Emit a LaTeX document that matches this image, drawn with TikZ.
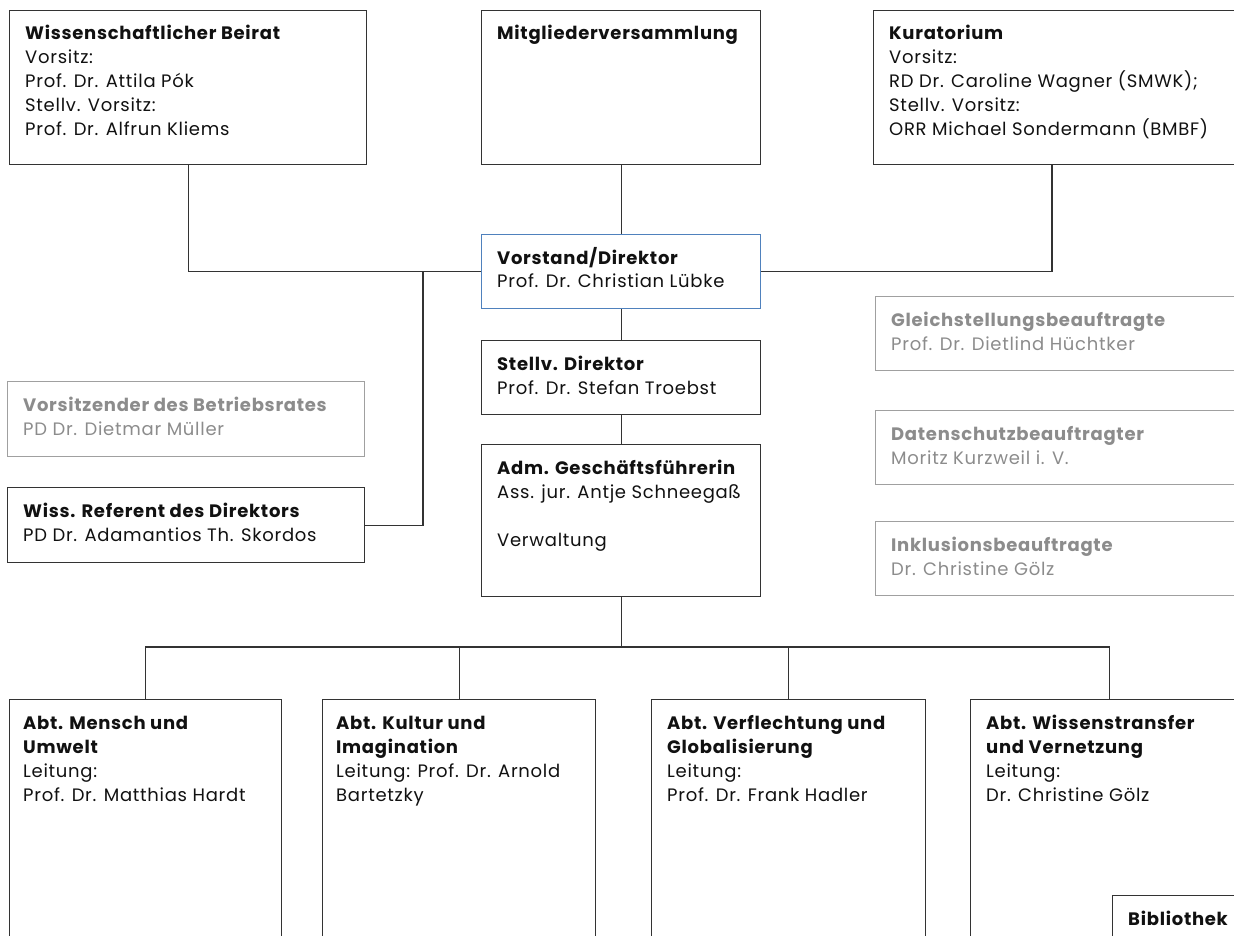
\documentclass[tikz,border=0pt]{standalone}
\usepackage{fontspec}
\setmainfont{Poppins}[LetterSpace=4]
\definecolor{ink}{HTML}{111111}
\definecolor{frame}{HTML}{333333}
\definecolor{greyink}{HTML}{8C8C8C}
\definecolor{greyframe}{HTML}{A0A0A0}
\definecolor{blueframe}{HTML}{4F81BD}
\newcommand{\bxtext}[1]{\parbox[t]{12cm}{\fontsize{18}{24}\selectfont\raggedright #1}}
\tikzset{
  orgbox/.style={draw=frame, line width=1.3pt, rectangle, inner sep=0pt, anchor=north west},
  greybox/.style={orgbox, draw=greyframe},
  bluebox/.style={orgbox, draw=blueframe},
  txt/.style={inner sep=0pt, anchor=base west, text=ink},
  greytxt/.style={txt, text=greyink},
  link/.style={draw=frame, line width=1.3pt}
}
\begin{document}
\begin{tikzpicture}[x=1pt,y=-1pt]
\useasboundingbox (0,0) rectangle (1234,936);
\clip (0,0) rectangle (1234,936);
\fill[white] (0,0) rectangle (1234,936);
% boxes
\node[orgbox, minimum width=357pt, minimum height=154pt] (beirat) at (9,10) {};
\node[orgbox, minimum width=279pt, minimum height=154pt] (mitglied) at (481,10) {};
\node[orgbox, minimum width=420pt, minimum height=154pt] (kurat) at (873,10) {};
\node[bluebox, minimum width=279pt, minimum height=74pt] (vorstand) at (481,234) {};
\node[orgbox, minimum width=279pt, minimum height=74pt] (stellv) at (481,340) {};
\node[orgbox, minimum width=279pt, minimum height=152pt] (adm) at (481,444) {};
\node[greybox, minimum width=357pt, minimum height=75pt] (betr) at (7,381) {};
\node[orgbox, minimum width=357pt, minimum height=75pt] (ref) at (7,487) {};
\node[greybox, minimum width=420pt, minimum height=74pt] (gleich) at (875,296) {};
\node[greybox, minimum width=420pt, minimum height=74pt] (daten) at (875,410) {};
\node[greybox, minimum width=420pt, minimum height=74pt] (inkl) at (875,521) {};
\node[orgbox, minimum width=272pt, minimum height=300pt] (abta) at (9,699) {};
\node[orgbox, minimum width=273pt, minimum height=300pt] (abtb) at (322,699) {};
\node[orgbox, minimum width=274pt, minimum height=300pt] (abtc) at (651,699) {};
\node[orgbox, minimum width=278pt, minimum height=300pt] (abtd) at (970,699) {};
\node[orgbox, minimum width=200pt, minimum height=100pt] (bib) at (1112,895) {};
% texts
\node[txt] (beirat-t) at ([xshift=16pt,yshift=-30pt]beirat.north west) {\bxtext{\textbf{Wissenschaftlicher Beirat}\\Vorsitz:\\Prof. Dr. Attila Pók\\Stellv. Vorsitz:\\Prof. Dr. Alfrun Kliems}};
\node[txt] (mitglied-t) at ([xshift=16pt,yshift=-30pt]mitglied.north west) {\bxtext{\textbf{Mitgliederversammlung}}};
\node[txt] (kurat-t) at ([xshift=16pt,yshift=-30pt]kurat.north west) {\bxtext{\textbf{Kuratorium}\\Vorsitz:\\RD Dr. Caroline Wagner (SMWK);\\Stellv. Vorsitz:\\ORR Michael Sondermann (BMBF)}};
\node[txt] (vorstand-t) at ([xshift=16pt,yshift=-30pt]vorstand.north west) {\bxtext{\textbf{Vorstand/Direktor}\\Prof. Dr. Christian Lübke}};
\node[txt] (stellv-t) at ([xshift=16pt,yshift=-30pt]stellv.north west) {\bxtext{\textbf{Stellv. Direktor}\\Prof. Dr. Stefan Troebst}};
\node[txt] (adm-t) at ([xshift=16pt,yshift=-30pt]adm.north west) {\bxtext{\textbf{Adm. Geschäftsführerin}\\Ass. jur. Antje Schneegaß\\[24pt]Verwaltung}};
\node[greytxt] (betr-t) at ([xshift=16pt,yshift=-30pt]betr.north west) {\bxtext{\textbf{Vorsitzender des Betriebsrates}\\PD Dr. Dietmar Müller}};
\node[txt] (ref-t) at ([xshift=16pt,yshift=-30pt]ref.north west) {\bxtext{\textbf{Wiss. Referent des Direktors}\\PD Dr. Adamantios Th. Skordos}};
\node[greytxt] (gleich-t) at ([xshift=16pt,yshift=-30pt]gleich.north west) {\bxtext{\textbf{Gleichstellungsbeauftragte}\\Prof. Dr. Dietlind Hüchtker}};
\node[greytxt] (daten-t) at ([xshift=16pt,yshift=-30pt]daten.north west) {\bxtext{\textbf{Datenschutzbeauftragter}\\Moritz Kurzweil i. V.}};
\node[greytxt] (inkl-t) at ([xshift=16pt,yshift=-30pt]inkl.north west) {\bxtext{\textbf{Inklusionsbeauftragte}\\Dr. Christine Gölz}};
\node[txt] (abta-t) at ([xshift=14pt,yshift=-30pt]abta.north west) {\bxtext{\textbf{Abt. Mensch und}\\\textbf{Umwelt}\\Leitung:\\Prof. Dr. Matthias Hardt}};
\node[txt] (abtb-t) at ([xshift=14pt,yshift=-30pt]abtb.north west) {\bxtext{\textbf{Abt. Kultur und}\\\textbf{Imagination}\\Leitung: Prof. Dr. Arnold\\Bartetzky}};
\node[txt] (abtc-t) at ([xshift=16pt,yshift=-30pt]abtc.north west) {\bxtext{\textbf{Abt. Verflechtung und}\\\textbf{Globalisierung}\\Leitung:\\Prof. Dr. Frank Hadler}};
\node[txt] (abtd-t) at ([xshift=16pt,yshift=-30pt]abtd.north west) {\bxtext{\textbf{Abt. Wissenstransfer}\\\textbf{und Vernetzung}\\Leitung:\\Dr. Christine Gölz}};
\node[txt] (bib-t) at ([xshift=16pt,yshift=-30pt]bib.north west) {\bxtext{\textbf{Bibliothek}}};
% connectors
\coordinate (kuratdrop) at ([xshift=179pt]kurat.south west);
\coordinate (refjoin) at (423,0);
\coordinate (bus) at (620,647);
\draw[link] (beirat.south) |- (vorstand.west);
\draw[link] (vorstand.east) -| (kuratdrop);
\draw[link] (mitglied.south) -- (vorstand.north);
\draw[link] (vorstand.south) -- (stellv.north);
\draw[link] (stellv.south) -- (adm.north);
\draw[link] (ref.east) -| (refjoin |- vorstand.west);
\draw[link] (adm.south) -- (adm.south |- bus);
\draw[link] (abta.north) |- (bus) -| (abtd.north);
\draw[link] (abtb.north) -- (abtb.north |- bus);
\draw[link] (abtc.north) -- (abtc.north |- bus);
\end{tikzpicture}
\end{document}
